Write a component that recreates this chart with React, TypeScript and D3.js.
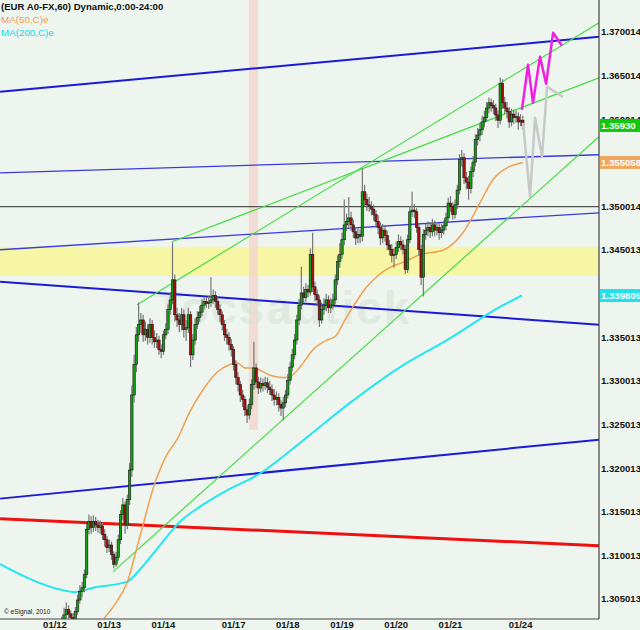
import React from 'react';
import * as d3 from 'd3';

// ---------- DATA ----------
const dayLabels = ['01/12', '01/13', '01/14', '01/17', '01/18', '01/19', '01/20', '01/21', '01/24'];
const dayStartIdx = [0, 24, 48, 79, 103, 127, 151, 175, 206];

const priceTicks = [1.370014, 1.365014, 1.360014, 1.350014, 1.345013, 1.335013, 1.330013, 1.325013, 1.320013, 1.315013, 1.310013, 1.305013];

const firstOpen = 1.2998;
const closes = [1.3004,1.3013,1.3017,1.3024,1.3032,1.3038,1.3033,1.3029,1.3027,1.3036,
1.3049,1.3059,1.3063,1.3078,1.3130,1.3139,1.3132,1.3139,1.3135,1.3132,
1.3134,1.3124,1.3118,1.3109,1.3112,1.3101,1.3090,1.3098,1.3118,1.3147,
1.3158,1.3135,1.3164,1.3198,1.3284,1.3319,1.3353,1.3365,1.3370,1.3353,
1.3359,1.3350,1.3365,1.3350,1.3345,1.3347,1.3336,1.3334,1.3353,1.3359,
1.3382,1.3393,1.3416,1.3376,1.3370,1.3365,1.3376,1.3359,1.3361,1.3376,
1.3330,1.3347,1.3365,1.3373,1.3379,1.3387,1.3391,1.3389,1.3390,1.3393,
1.3398,1.3391,1.3382,1.3376,1.3365,1.3353,1.3350,1.3342,1.3336,1.3319,
1.3304,1.3296,1.3284,1.3279,1.3267,1.3261,1.3273,1.3296,1.3315,1.3299,
1.3292,1.3297,1.3295,1.3298,1.3293,1.3290,1.3284,1.3279,1.3281,1.3273,
1.3269,1.3275,1.3284,1.3301,1.3316,1.3330,1.3347,1.3370,1.3387,1.3401,
1.3396,1.3405,1.3402,1.3445,1.3408,1.3399,1.3393,1.3370,1.3382,1.3387,
1.3393,1.3384,1.3387,1.3393,1.3416,1.3437,1.3445,1.3462,1.3479,1.3483,
1.3487,1.3479,1.3471,1.3464,1.3468,1.3466,1.3517,1.3508,1.3502,1.3500,
1.3497,1.3491,1.3483,1.3476,1.3464,1.3473,1.3467,1.3456,1.3451,1.3444,
1.3445,1.3453,1.3460,1.3456,1.3451,1.3428,1.3462,1.3494,1.3496,1.3494,
1.3476,1.3451,1.3419,1.3468,1.3473,1.3476,1.3471,1.3479,1.3473,1.3476,
1.3470,1.3473,1.3478,1.3487,1.3504,1.3500,1.3491,1.3502,1.3519,1.3554,
1.3556,1.3533,1.3528,1.3521,1.3540,1.3551,1.3577,1.3582,1.3588,1.3597,
1.3602,1.3613,1.3619,1.3616,1.3613,1.3605,1.3599,1.3641,1.3619,1.3613,
1.3609,1.3597,1.3606,1.3602,1.3603,1.3597,1.3599,1.3593];

const highs = [1.3010,1.3018,1.3022,1.3030,1.3040,1.3046,1.3043,1.3037,1.3034,1.3041,
1.3055,1.3066,1.3070,1.3084,1.3136,1.3147,1.3145,1.3146,1.3144,1.3141,
1.3140,1.3138,1.3130,1.3122,1.3118,1.3116,1.3105,1.3104,1.3124,1.3152,
1.3166,1.3162,1.3170,1.3206,1.3295,1.3330,1.3362,1.3390,1.3378,1.3376,
1.3368,1.3365,1.3372,1.3370,1.3358,1.3355,1.3352,1.3342,1.3358,1.3366,
1.3388,1.3402,1.3459,1.3422,1.3384,1.3378,1.3384,1.3382,1.3370,1.3384,
1.3380,1.3354,1.3372,1.3380,1.3386,1.3394,1.3397,1.3396,1.3398,1.3419,
1.3405,1.3403,1.3396,1.3388,1.3380,1.3370,1.3360,1.3356,1.3348,1.3340,
1.3324,1.3310,1.3300,1.3290,1.3283,1.3272,1.3280,1.3302,1.3345,1.3320,
1.3305,1.3304,1.3303,1.3305,1.3304,1.3300,1.3296,1.3291,1.3288,1.3286,
1.3278,1.3282,1.3290,1.3308,1.3322,1.3337,1.3354,1.3376,1.3394,1.3431,
1.3408,1.3412,1.3410,1.3452,1.3470,1.3414,1.3405,1.3398,1.3390,1.3395,
1.3400,1.3398,1.3395,1.3400,1.3422,1.3444,1.3458,1.3470,1.3508,1.3492,
1.3511,1.3494,1.3485,1.3476,1.3475,1.3474,1.3544,1.3525,1.3515,1.3511,
1.3506,1.3502,1.3496,1.3490,1.3482,1.3480,1.3479,1.3472,1.3462,1.3457,
1.3452,1.3460,1.3468,1.3466,1.3462,1.3456,1.3468,1.3500,1.3517,1.3503,
1.3498,1.3480,1.3456,1.3474,1.3480,1.3483,1.3482,1.3486,1.3484,1.3482,
1.3481,1.3480,1.3484,1.3493,1.3510,1.3512,1.3505,1.3508,1.3525,1.3560,
1.3565,1.3561,1.3540,1.3535,1.3546,1.3558,1.3583,1.3590,1.3596,1.3604,
1.3610,1.3620,1.3625,1.3624,1.3622,1.3618,1.3610,1.3648,1.3646,1.3626,
1.3620,1.3614,1.3612,1.3611,1.3610,1.3608,1.3606,1.3604];

const lows = [1.2995,1.3000,1.3008,1.3012,1.3020,1.3027,1.3028,1.3024,1.3020,1.3024,
1.3032,1.3045,1.3052,1.3058,1.3074,1.3124,1.3125,1.3127,1.3128,1.3126,
1.3125,1.3118,1.3110,1.3103,1.3104,1.3095,1.3085,1.3087,1.3094,1.3113,
1.3140,1.3125,1.3130,1.3158,1.3190,1.3275,1.3310,1.3345,1.3355,1.3345,
1.3346,1.3342,1.3344,1.3342,1.3338,1.3338,1.3330,1.3326,1.3330,1.3348,
1.3354,1.3376,1.3388,1.3368,1.3362,1.3356,1.3358,1.3350,1.3346,1.3355,
1.3316,1.3324,1.3342,1.3360,1.3368,1.3374,1.3382,1.3384,1.3383,1.3385,
1.3388,1.3384,1.3376,1.3368,1.3358,1.3346,1.3342,1.3335,1.3328,1.3312,
1.3296,1.3288,1.3276,1.3270,1.3260,1.3252,1.3256,1.3268,1.3290,1.3292,
1.3285,1.3287,1.3288,1.3290,1.3286,1.3284,1.3277,1.3272,1.3272,1.3265,
1.3260,1.3255,1.3270,1.3280,1.3296,1.3311,1.3325,1.3342,1.3364,1.3382,
1.3390,1.3391,1.3396,1.3398,1.3402,1.3392,1.3386,1.3362,1.3366,1.3376,
1.3380,1.3378,1.3378,1.3382,1.3388,1.3410,1.3430,1.3440,1.3456,1.3472,
1.3476,1.3472,1.3464,1.3456,1.3458,1.3458,1.3460,1.3500,1.3495,1.3494,
1.3490,1.3484,1.3476,1.3468,1.3456,1.3458,1.3460,1.3450,1.3444,1.3436,
1.3430,1.3440,1.3448,1.3450,1.3445,1.3423,1.3424,1.3458,1.3488,1.3487,
1.3470,1.3444,1.3410,1.3397,1.3462,1.3466,1.3464,1.3466,1.3466,1.3467,
1.3462,1.3464,1.3468,1.3473,1.3482,1.3494,1.3485,1.3486,1.3497,1.3514,
1.3546,1.3526,1.3520,1.3508,1.3515,1.3534,1.3546,1.3570,1.3575,1.3582,
1.3591,1.3597,1.3607,1.3609,1.3606,1.3598,1.3590,1.3594,1.3612,1.3606,
1.3601,1.3590,1.3592,1.3595,1.3596,1.3588,1.3592,1.3589];

// moving averages (bar index, value)
const ma50Idx = [21.7, 26.5, 31.9, 37.6, 44.2, 49.6, 54, 59.7, 65.5, 71.7, 77.4, 80.5, 84, 87.6, 95, 101, 104, 108.4, 114.2, 120.4, 124, 128.3, 138, 148, 154, 161.5, 171.7, 180.5, 188, 193.8, 201.3, 207];
const ma50Val = [1.3028, 1.3044, 1.3069, 1.3122, 1.3183, 1.3216, 1.3233, 1.3265, 1.3290, 1.3310, 1.3319, 1.3321, 1.3315, 1.3315, 1.3307, 1.3304, 1.3305, 1.3316, 1.3336, 1.3347, 1.3351, 1.3370, 1.3408, 1.3430, 1.3436, 1.3445, 1.3450, 1.3470, 1.3504, 1.3531, 1.3546, 1.35506];
const ma200Idx = [-24.3, -11, 2.2, 8.8, 16.8, 31.9, 37.6, 46.5, 55, 64.2, 75, 90.7, 108.4, 130.5, 152.7, 174.8, 196.9, 206.6];
const ma200Val = [1.3090, 1.3073, 1.3061, 1.3058, 1.3063, 1.3070, 1.3084, 1.3112, 1.3138, 1.3156, 1.3173, 1.3194, 1.3229, 1.3275, 1.3316, 1.3349, 1.3385, 1.33981];

// trend lines: [startIdx, startPrice, endIdx, endPrice]
const blueTop = [-24.3, 1.36316, 240.7, 1.36946];
const blueThin1 = [-24.3, 1.35387, 240.7, 1.35594];
const blueThin2 = [-24.3, 1.34505, 240.7, 1.34929];
const blueMid = [-24.3, 1.34138, 240.7, 1.33646];
const blueLow = [-24.3, 1.31652, 240.7, 1.32328];
const redLine = [-24.3, 1.31422, 240.7, 1.31113];
const greenUp1 = [36.3, 1.33875, 240.7, 1.37106];
const greenUp2 = [51.8, 1.34597, 240.7, 1.36476];
const greenLow = [25.7, 1.30815, 240.7, 1.3580];
const levelLine = 1.3500;
const yellowZone = [1.34207, 1.34539];
const holidayBand = [85.8, 89.8, 1.3244];

// projections
const magIdx = [206.6, 209.3, 211.5, 214.6, 217.3, 220.4, 224.3];
const magVal = [1.36109, 1.36625, 1.3619, 1.36717, 1.36407, 1.36992, 1.36843];
const grayIdx = [207.1, 210.2, 212.4, 215.5, 217.7, 224.8];
const grayVal = [1.3596, 1.35112, 1.36018, 1.35571, 1.36373, 1.36258];

const lastClose = 1.3593;
const lastMa50 = 1.355058;
const lastMa200 = 1.339805;

const watermark = 'Tocsautick';

// ---------- CHART ----------
const W = 640, H = 630;
const PR = 599, PB = 619;
const FONT = '"Liberation Sans", Arial, sans-serif';
const BG = '#eef5ee';

export default function App() {
  const x = d3.scaleLinear().domain([0, 207]).range([55, 55 + 2.26 * 207]);
  const y = d3.scaleLinear().domain([1.305013, 1.370014]).range([599, 32]);

  const candles = closes.map((c, i) => ({
    i, o: i === 0 ? firstOpen : closes[i - 1], c, h: highs[i], l: lows[i],
  }));

  const lineGen = d3.line<[number, number]>().x(d => x(d[0])).y(d => y(d[1])).curve(d3.curveMonotoneX);
  const polyGen = d3.line<[number, number]>().x(d => x(d[0])).y(d => y(d[1]));
  const ma50 = lineGen(ma50Idx.map((v, k) => [v, ma50Val[k]] as [number, number])) || '';
  const ma200 = lineGen(ma200Idx.map((v, k) => [v, ma200Val[k]] as [number, number])) || '';
  const mag = polyGen(magIdx.map((v, k) => [v, magVal[k]] as [number, number])) || '';
  const gry = polyGen(grayIdx.map((v, k) => [v, grayVal[k]] as [number, number])) || '';

  const seg = (s: number[], color: string, w: number, key: string) => (
    <line key={key} x1={x(s[0])} y1={y(s[1])} x2={x(s[2])} y2={y(s[3])} stroke={color} strokeWidth={w} />
  );

  const boxLabel = (v: number, text: string, bg: string, key: string) => (
    <g key={key}>
      <rect x={600} y={y(v) - 6.5} width={40} height={13} fill={bg} />
      <text x={601} y={y(v)} dy="0.35em" fontFamily={FONT} fontSize={9.6} fontWeight="bold" fill="#fff">{text}</text>
    </g>
  );

  return (
    <svg width={W} height={H} style={{ position: 'absolute', left: 0, top: 0, background: BG }}>
      <defs>
        <clipPath id="plot"><rect x={0} y={0} width={PR} height={PB} /></clipPath>
      </defs>
      <rect x={0} y={0} width={W} height={H} fill={BG} />
      <g clipPath="url(#plot)">
        <rect x={0} y={y(yellowZone[1])} width={PR} height={y(yellowZone[0]) - y(yellowZone[1])} fill="#f6f6a4" />
        <rect x={x(holidayBand[0])} y={0} width={x(holidayBand[1]) - x(holidayBand[0])} height={y(holidayBand[2])} fill="#f2d6cc" opacity={0.85} />
        <text x={x(44)} y={y(1.3365)} fontFamily={FONT} fontSize={46} fontWeight="bold" fill="#d8e4d8" opacity={0.6} letterSpacing={2}>{watermark}</text>
        <line x1={0} x2={PR} y1={y(levelLine)} y2={y(levelLine)} stroke="#555" strokeWidth={1.3} />
        {seg(blueTop, '#1a1ad8', 2, 'bt')}
        {seg(blueThin1, '#3a3ae0', 1.3, 'b1')}
        {seg(blueThin2, '#3a3ae0', 1.3, 'b2')}
        {seg(blueMid, '#1a1ad8', 2, 'bm')}
        {seg(blueLow, '#1a1ad8', 2, 'bl')}
        {seg(redLine, '#ee1111', 3, 'rd')}
        {seg(greenUp1, '#44dd44', 1.2, 'g1')}
        {seg(greenUp2, '#44dd44', 1.2, 'g2')}
        {seg(greenLow, '#44dd44', 1.2, 'g3')}
        <path d={ma200} fill="none" stroke="#22e6f0" strokeWidth={2} />
        <path d={ma50} fill="none" stroke="#f0a050" strokeWidth={1.5} />
        {candles.map(d => {
          const cx = x(d.i);
          const up = d.c >= d.o;
          const top = y(Math.max(d.o, d.c));
          const bot = y(Math.min(d.o, d.c));
          return (
            <g key={d.i}>
              <line x1={cx} x2={cx} y1={y(d.h)} y2={y(d.l)} stroke="#777" strokeWidth={1.2} />
              <rect x={cx - 1.2} y={top} width={2.4} height={Math.max(1, bot - top)}
                fill={up ? '#10a010' : '#a81010'} stroke="#1a1a1a" strokeWidth={0.6} />
            </g>
          );
        })}
        <path d={gry} fill="none" stroke="#c8c8c8" strokeWidth={2.5} strokeLinejoin="round" />
        <path d={mag} fill="none" stroke="#f020e0" strokeWidth={2.5} strokeLinejoin="round" />
      </g>
      <line x1={PR} x2={PR} y1={0} y2={PB} stroke="#444" strokeWidth={1.2} />
      <line x1={0} x2={PR} y1={PB} y2={PB} stroke="#444" strokeWidth={1.2} />
      {priceTicks.map(v => (
        <text key={v} x={601} y={y(v)} dy="0.35em" fontFamily={FONT} fontSize={9.6} fontWeight="bold" fill="#111">{v.toFixed(6)}</text>
      ))}
      {boxLabel(lastClose, lastClose.toFixed(5), '#10c810', 'lc')}
      {boxLabel(lastMa50, lastMa50.toFixed(6), '#f0a860', 'm50')}
      {boxLabel(lastMa200, lastMa200.toFixed(6), '#22e0ee', 'm200')}
      {dayLabels.map((lab, k) => (
        <text key={lab} x={x(dayStartIdx[k])} y={628} textAnchor="middle" fontFamily={FONT} fontSize={9.5} fontWeight="bold" fill="#111">{lab}</text>
      ))}
      <text x={1} y={10} fontFamily={FONT} fontSize={9.6} fontWeight="bold" fill="#111">(EUR A0-FX,60) Dynamic,0:00-24:00</text>
      <text x={1} y={23} fontFamily={FONT} fontSize={9.8} fill="#f0a050">MA(50,C)e</text>
      <text x={1} y={36} fontFamily={FONT} fontSize={9.8} fill="#10d8e8">MA(200,C)e</text>
      <text x={4} y={614} fontFamily={FONT} fontSize={6.5} fill="#222">© eSignal, 2010</text>
    </svg>
  );
}
